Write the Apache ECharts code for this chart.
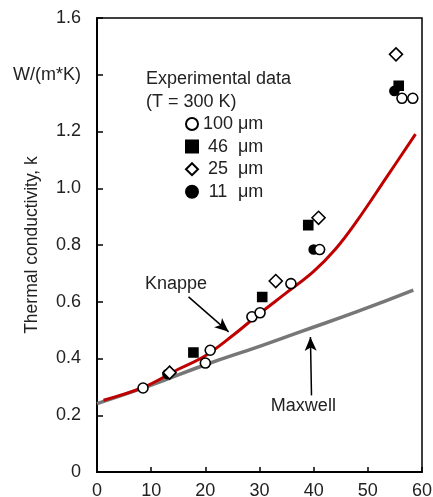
<!DOCTYPE html>
<html>
<head>
<meta charset="utf-8">
<script src="https://cdn.jsdelivr.net/npm/echarts@6/dist/echarts.min.js"></script>
<style>
html, body { margin: 0; padding: 0; background: #fff; }
#chart { width: 433px; height: 497px; }
</style>
</head>
<body>
<div id="chart"></div>
<script>
// experimental points [x, k]
const d100 = [[8.5, 0.296], [20.0, 0.384], [20.9, 0.429], [28.6, 0.547], [30.1, 0.561], [35.8, 0.664], [41.1, 0.784], [56.3, 1.317], [58.3, 1.317]]
const d46 = [[17.8, 0.421], [30.5, 0.617], [39.0, 0.870], [55.7, 1.361]]
const d25 = [[13.4, 0.350], [33.0, 0.673], [40.9, 0.896], [55.2, 1.472]]
const d11 = [[13.0, 0.345], [40.0, 0.784], [54.9, 1.343]]
// model curves
const knappe = [[1.2, 0.253], [8.5, 0.298], [15, 0.362], [20, 0.41], [25, 0.48], [30, 0.558], [35, 0.632], [40, 0.707], [44, 0.785], [48, 0.885], [53.5, 1.04], [58.8, 1.191]]
const maxwell = [[0, 0.241], [10, 0.306], [20, 0.378], [30, 0.443], [37.5, 0.494], [48, 0.565], [58.4, 0.641]]
const yTickLabels = {0: '0', 0.2: '0.2', 0.4: '0.4', 0.6: '0.6', 0.8: '0.8', 1: '1.0', 1.2: '1.2', 1.4: 'W/(m*K)', 1.6: '1.6'}
const legendNames = ['100', '46', '25', '11']
const annotations = [
  {name: 'Knappe', coord: [14.6, 0.664], from: [16.9, 0.617], to: [24.3, 0.494]},
  {name: 'Maxwell', coord: [38.1, 0.232], from: [39.6, 0.27], to: [39.4, 0.476]}
]

const font = 'Liberation Sans'
const chart = echarts.init(document.getElementById('chart'))

function pointSeries (name, data, symbol, size, filled) {
  return {
    name: name,
    type: 'scatter',
    data: data,
    symbol: symbol,
    symbolSize: size,
    z: 5,
    itemStyle: {
      color: filled ? '#000' : '#fff',
      borderColor: '#000',
      borderWidth: 1.6,
      opacity: 1
    }
  }
}

chart.setOption({
  animation: false,
  textStyle: {fontFamily: font},
  grid: {
    left: 97, right: 11, top: 18, bottom: 25,
    outerBoundsMode: 'none',
    containLabel: false,
    show: true, borderColor: '#000', borderWidth: 1.5
  },
  title: {
    text: 'Experimental data\n(T = 300 K)',
    left: 146, top: 68, padding: 0,
    textStyle: {fontFamily: font, fontSize: 18, fontWeight: 'normal', color: '#222', lineHeight: 22.6}
  },
  legend: {
    orient: 'vertical',
    left: 185, top: 115, padding: 0,
    itemWidth: 12, itemHeight: 12,
    itemGap: 4.6,
    data: legendNames,
    formatter: function (n) { return '{n|' + n + '} {u|μm}' },
    textStyle: {
      fontFamily: font, fontSize: 18, color: '#222',
      rich: {
        n: {width: 30, align: 'right', fontSize: 18, color: '#222'},
        u: {fontSize: 18, color: '#222'}
      }
    }
  },
  xAxis: {
    type: 'value', min: 0, max: 60, interval: 10,
    axisLine: {lineStyle: {color: '#000', width: 2}},
    axisTick: {inside: true, length: 5, lineStyle: {color: '#000', width: 1.5}},
    axisLabel: {fontSize: 18, color: '#222', margin: 10},
    splitLine: {show: false}
  },
  yAxis: {
    type: 'value', min: 0, max: 1.6, interval: 0.2,
    name: 'Thermal conductivity, k',
    nameLocation: 'middle', nameGap: 56, nameMoveOverlap: false,
    nameTextStyle: {fontSize: 17.5, color: '#222'},
    axisLine: {show: true, lineStyle: {color: '#000', width: 2}},
    axisTick: {show: true, inside: true, length: 6, lineStyle: {color: '#000', width: 1.5}},
    axisLabel: {
      fontSize: 18, color: '#222', margin: 16,
      formatter: function (v) { return yTickLabels[Math.round(v * 10) / 10] }
    },
    splitLine: {show: false}
  },
  series: [
    {
      name: 'Maxwell', type: 'line', data: maxwell, smooth: true, showSymbol: false,
      lineStyle: {color: '#777', width: 3.5}, z: 2
    },
    {
      name: 'Knappe', type: 'line', data: knappe, smooth: 0.4, showSymbol: false,
      lineStyle: {color: '#c00000', width: 3}, z: 3
    },
    pointSeries('11', d11, 'circle', 9, true),
    pointSeries('46', d46, 'rect', 9, true),
    pointSeries('100', d100, 'circle', 10, false),
    pointSeries('25', d25, 'diamond', 13, false),
    {
      name: 'notes', type: 'scatter', data: [], z: 4,
      markLine: {
        silent: true, symbol: ['none', 'arrow'], symbolSize: [9, 14],
        lineStyle: {color: '#000', width: 1.5, type: 'solid'},
        label: {show: false},
        data: annotations.map(a => [{coord: a.from}, {coord: a.to}])
      },
      markPoint: {
        silent: true, symbol: 'circle', symbolSize: 0,
        label: {show: true, position: 'inside', fontSize: 18, color: '#222', formatter: '{b}'},
        data: annotations.map(a => ({name: a.name, coord: a.coord}))
      }
    }
  ]
})
</script>
</body>
</html>
